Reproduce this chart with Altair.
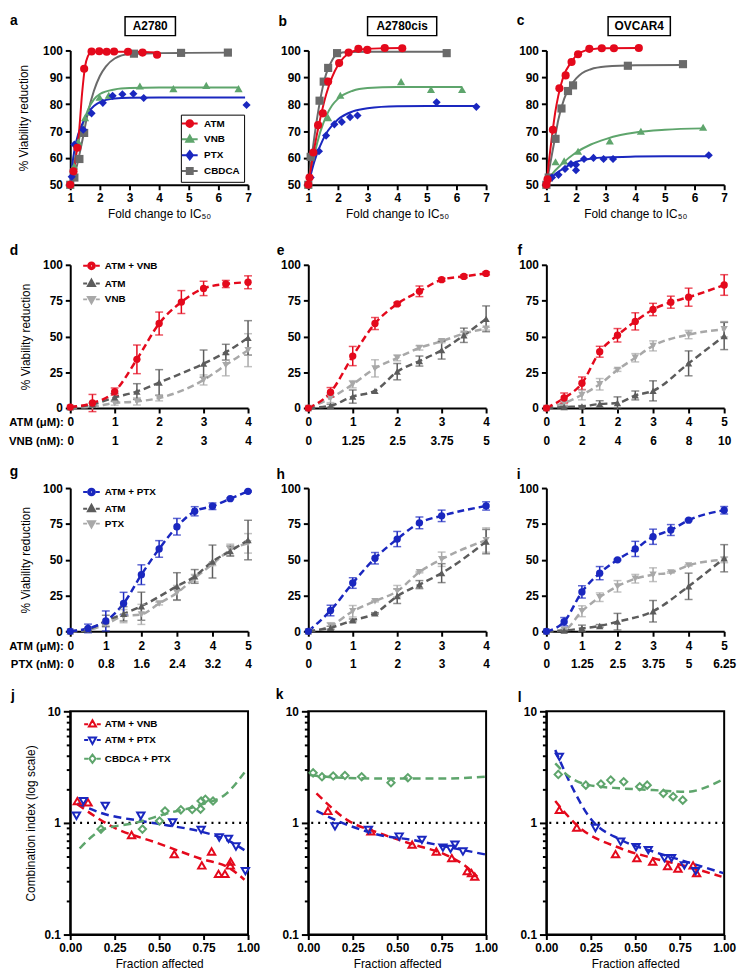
import altair as alt
import pandas as pd

FONT = "Liberation Sans"
RED = "#e4091c"
GREEN = "#5ea56c"
BLUE = "#1a27bf"
CGRAY = "#6a6a6a"
DGRAY = "#5c5c5c"
LGRAY = "#a8a8a8"

W = 180
H1, H2, H4 = 136, 145, 226
SPX, SPY = 61, 81

# ---------------- panels a-c : fold change to IC50 ----------------
FOLD_TICKS = [1, 2, 3, 4, 5, 6, 7]
VIAB1_TICKS = [50, 60, 70, 80, 90, 100]

A_ATM_X = [1, 1.11, 1.24, 1.47, 1.72, 1.98, 2.23, 2.48, 2.95, 3.44, 3.93]
A_ATM_Y = [50, 55, 63.8, 93.2, 99.6, 99.7, 99.5, 99.6, 99.5, 99.2, 98.4]
A_ATM_FX = [1, 1.1, 1.2, 1.3, 1.4, 1.5, 1.6, 1.7, 1.8, 2.0, 2.5, 3.0, 3.5, 3.93]
A_ATM_FY = [50, 54, 61, 70, 84, 94, 98, 99.3, 99.5, 99.5, 99.5, 99.5, 99.4, 99.2]
A_CBD_X = [1, 1.14, 1.31, 1.47, 3.15, 4.74, 6.32]
A_CBD_Y = [50, 52.7, 59.6, 69.3, 98.8, 99.1, 99.2]
A_CBD_FX = [1, 1.2, 1.4, 1.6, 1.8, 2.0, 2.2, 2.5, 3.0, 4.0, 5.0, 6.32]
A_CBD_FY = [50, 56, 66, 77, 85, 90.5, 94, 97, 98.7, 99, 99.1, 99.2]
A_VNB_X = [1, 1.13, 1.27, 1.5, 1.63, 1.99, 2.3, 3.35, 4.48, 5.59, 6.68]
A_VNB_Y = [50, 57, 66, 75, 77, 82.6, 83.3, 86.8, 85.8, 87, 85.8]
A_VNB_FX = [1, 1.2, 1.4, 1.6, 1.8, 2.0, 2.5, 3.0, 4.0, 5.0, 6.68]
A_VNB_FY = [50, 62, 71.5, 78, 81.8, 83.8, 85.5, 86, 86.2, 86.2, 86.2]
A_PTX_X = [1, 1.05, 1.14, 1.44, 1.72, 2.1, 2.43, 2.76, 3.13, 3.48, 6.95]
A_PTX_Y = [50, 53, 65, 70.5, 76.6, 80.5, 83.1, 83.7, 83.9, 82.3, 79.7]
A_PTX_FX = [1, 1.1, 1.2, 1.4, 1.6, 1.8, 2.0, 2.5, 3.0, 4.0, 5.0, 6.9]
A_PTX_FY = [50, 60, 66, 72.5, 76.8, 79.3, 80.8, 82.1, 82.4, 82.5, 82.5, 82.5]

B_ATM_X = [1, 1.04, 1.17, 1.33, 1.49, 1.67, 2.04, 2.36, 2.69, 2.99, 3.58, 4.17]
B_ATM_Y = [50, 52.7, 62, 72.2, 76.6, 88.4, 95.3, 99.2, 100.6, 100.2, 100.9, 100.8]
B_ATM_FX = [1, 1.2, 1.4, 1.6, 1.8, 2.0, 2.2, 2.5, 3.0, 3.5, 4.17]
B_ATM_FY = [50, 63.5, 74.5, 83.5, 90, 94.5, 97.4, 99.6, 100.6, 100.8, 100.9]
B_CBD_X = [1, 1.08, 1.38, 1.52, 1.67, 1.97, 5.67]
B_CBD_Y = [50, 60.4, 81.3, 88.4, 93.5, 99, 99]
B_CBD_FX = [1, 1.1, 1.2, 1.3, 1.4, 1.5, 1.6, 1.8, 2.0, 2.3, 3.0, 4.0, 5.67]
B_CBD_FY = [50, 59, 67.5, 75, 81.5, 87, 91.2, 96.3, 98.7, 99.4, 99.5, 99.5, 99.5]
B_VNB_X = [1, 1.67, 2.08, 4.13, 5.14, 6.19]
B_VNB_Y = [50, 75, 83.3, 88.4, 85.5, 85.5]
B_VNB_FX = [1, 1.2, 1.4, 1.6, 1.8, 2.0, 2.5, 3.0, 4.0, 5.0, 6.19]
B_VNB_FY = [50, 61, 69.5, 75.5, 79.5, 82, 85, 86, 86.4, 86.4, 86.4]
B_PTX_X = [1, 1.08, 1.36, 1.6, 1.88, 2.13, 2.41, 2.66, 5.33, 6.67]
B_PTX_Y = [50, 52.7, 62.5, 68.3, 72.5, 73.4, 75.2, 75.8, 80.7, 79]
B_PTX_FX = [1, 1.2, 1.4, 1.6, 1.8, 2.0, 2.5, 3.0, 4.0, 5.0, 6.67]
B_PTX_FY = [50, 58.5, 64.5, 69, 72, 74.3, 77.3, 78.5, 79.2, 79.3, 79.3]

C_ATM_X = [1, 1.04, 1.22, 1.44, 1.65, 1.85, 2.07, 2.45, 2.87, 3.28, 4.12]
C_ATM_Y = [50, 52, 70.5, 85.9, 90.7, 95.7, 98.6, 100.6, 100.8, 100.8, 100.9]
C_ATM_FX = [1, 1.1, 1.2, 1.3, 1.4, 1.5, 1.6, 1.8, 2.0, 2.2, 2.5, 3.0, 4.12]
C_ATM_FY = [50, 60, 69, 77, 83, 87.5, 91, 95, 98, 99.5, 100.4, 100.8, 100.9]
C_CBD_X = [1, 1.08, 1.31, 1.51, 1.73, 1.9, 3.75, 5.61]
C_CBD_Y = [50, 52.7, 67.1, 78.4, 84.9, 87, 94.3, 94.9]
C_CBD_FX = [1, 1.1, 1.2, 1.3, 1.4, 1.6, 1.8, 2.0, 2.2, 2.5, 3.0, 4.0, 5.61]
C_CBD_FY = [50, 56, 62, 68, 74, 82, 86.5, 89.5, 91.5, 93, 94, 94.5, 94.6]
C_VNB_X = [1, 1.31, 1.6, 2.07, 3.14, 4.19, 6.29]
C_VNB_Y = [50, 58.6, 58.9, 62.5, 66.3, 69.9, 71.4]
C_VNB_FX = [1, 1.2, 1.5, 2.0, 2.5, 3.0, 3.5, 4.0, 5.0, 6.29]
C_VNB_FY = [50, 54, 57.5, 62, 65, 67, 68.5, 69.5, 70.5, 71]
C_PTX_X = [1, 1.19, 1.41, 1.63, 1.83, 2.0, 2.0, 2.27, 2.59, 2.93, 3.25, 6.48]
C_PTX_Y = [50, 52.7, 53.7, 55.9, 57.7, 55.4, 57.5, 59.6, 60, 59.6, 59.6, 61]
C_PTX_FX = [1, 1.2, 1.5, 1.8, 2.0, 2.5, 3.0, 4.0, 5.0, 6.48]
C_PTX_FY = [50, 53, 55.5, 57.5, 58.5, 59.7, 60.2, 60.5, 60.6, 60.6]

# ---------------- panels d-i : combinations ----------------
VIAB_TICKS = [0, 25, 50, 75, 100]
DOSE_4 = [0, 0.5, 1, 1.5, 2, 2.5, 3, 3.5, 4]
DOSE_5 = [0, 0.5, 1, 1.5, 2, 2.5, 3, 3.5, 4, 4.5, 5]
ATM_TICKS_4 = [0, 1, 2, 3, 4]
ATM_TICKS_5 = [0, 1, 2, 3, 4, 5]
D_VNB_LABELS = ["0", "1", "2", "3", "4"]
E_VNB_LABELS = ["0", "1.25", "2.5", "3.75", "5"]
F_VNB_LABELS = ["0", "2", "4", "6", "8", "10"]
G_PTX_LABELS = ["0", "0.8", "1.6", "2.4", "3.2", "4"]
H_PTX_LABELS = ["0", "1", "2", "3", "4"]
I_PTX_LABELS = ["0", "1.25", "2.5", "3.75", "5", "6.25"]

D_COMBO = [0.7, 3.5, 11.5, 34, 59, 74, 83.5, 86.6, 87.8]
D_COMBO_ERR = [0, 6, 2.5, 10, 8, 8, 5, 2.5, 4.5]
D_ATM = [0.5, 2.5, 7.4, 11.5, 17.8, None, 31, 39, 49]
D_ATM_ERR = [0, 1, 2.8, 5.5, 9, None, 9.5, 5.5, 12]
D_VNB = [0.3, 1, 3.5, 4.6, 7, None, 19.6, 30, 40.4]
D_VNB_ERR = [0, 0.5, 1.5, 2.5, 2, None, 3.5, 7.5, 11.5]

E_COMBO = [0, 11, 36.3, 59, 72.7, 81.5, 89.6, 91.9, 94]
E_COMBO_ERR = [0, 3.3, 6.7, 4.2, 1, 3.7, 1, 1, 1]
E_ATM = [0, 1.6, 8, 12, 25.4, 32.8, 40.4, 50.8, 62.3]
E_ATM_ERR = [0, 1, 4.6, 0, 5.7, 3.5, 6.2, 5, 9]
E_VNB = [0, 7, 16.6, 27.7, 35, 42, 46.6, 52, 55.4]
E_VNB_ERR = [0, 3.2, 2.5, 6, 2, 1.5, 1, 1, 1]

F_COMBO = [0, 7, 17.3, 39.3, 50.8, 60.5, 68.8, 73.9, 77.4, None, 85.9]
F_COMBO_ERR = [0, 3.5, 4.4, 3.8, 4.7, 6, 4.3, 4.2, 6.3, None, 7.2]
F_ATM = [0, 0.7, 1.2, 2.8, 3.5, 8.8, 12, None, 31.2, None, 50.3]
F_ATM_ERR = [0, 0.5, 0.5, 2.3, 4.3, 3.1, 7, None, 8.7, None, 9.5]
F_VNB = [0, 3.5, 9.2, 16.6, 26.6, 35.1, 43.4, None, 51.3, None, 55]
F_VNB_ERR = [0, 1.5, 3.5, 4, 1, 2.9, 3.5, None, 2.9, None, 5.4]

G_COMBO = [0, 2, 7.2, 19.4, 39.5, 57.5, 73, 83.8, 87.3, 92.6, 97.7]
G_COMBO_ERR = [0, 3, 7, 7.8, 6.9, 5.8, 5.8, 3.2, 2.3, 0.5, 0.5]
G_ATM = [0, 1.4, 7.2, 12.2, 17.5, None, 31.4, 38.3, 48.7, 56, 63.7]
G_ATM_ERR = [0, 1, 4, 5, 9.8, None, 9.5, 4.8, 11.5, 3.5, 13.8]
G_PTX = [0, 1, 4.8, 10.6, 11.8, 19.4, 26.8, 37.2, 46.9, 56.8, 61.4]
G_PTX_ERR = [0, 0.5, 1, 4.6, 7, 1, 5.2, 2.5, 1, 4, 6.8]

H_COMBO = [0, 14.5, 33.7, 51, 64.4, 75.7, 80.6, None, 87.5]
H_COMBO_ERR = [0, 3.7, 3.7, 4, 5.3, 4.1, 4, None, 2.9]
H_ATM = [0, 2.5, 7.6, 12.5, 24.5, 32.6, 40.6, None, 62.6]
H_ATM_ERR = [0, 1, 1, 0.5, 5.1, 2.8, 6.6, None, 8.5]
H_PTX = [0, 3.7, 14, 21, 28, 41.3, 50.3, None, 63.7]
H_PTX_ERR = [0, 2.3, 4, 0.5, 4, 0.5, 5, None, 8.5]

I_COMBO = [0, 6.7, 27.5, 40.6, 49.9, 57.5, 66, 70.7, 77.6, None, 84.5]
I_COMBO_ERR = [0, 2.9, 4.3, 4.6, 0.5, 5.3, 5.3, 3.8, 0.5, None, 2.6]
I_ATM = [0, 0.5, 2, 3.7, 6.7, None, 14, None, 31.4, None, 51]
I_ATM_ERR = [0, 0.3, 2.3, 1, 5.8, None, 7.5, None, 9.2, None, 9.5]
I_PTX = [0, 1, 14, 23.8, 31.4, 36.7, 39.5, 41.1, 46, None, 49.9]
I_PTX_ERR = [0, 0.5, 3.8, 3, 4, 3, 4.8, 0.5, 0.5, None, 2]

# ---------------- panels j-l : combination index ----------------
FA_TICKS = [0, 0.25, 0.5, 0.75, 1.0]
CI_TICKS = [0.1, 0.2, 0.3, 0.4, 0.5, 0.6, 0.7, 0.8, 0.9, 1, 2, 3, 4, 5, 6, 7, 8, 9, 10]
CI_LABELED = [0.1, 1, 10]
CI_REF = [1]

J_VNB_X = [0.04, 0.10, 0.345, 0.585, 0.74, 0.795, 0.834, 0.87, 0.90, 0.902]
J_VNB_Y = [1.57, 1.53, 0.78, 0.525, 0.416, 0.555, 0.35, 0.35, 0.416, 0.45]
J_VNB_FX = [0.04, 0.234, 0.49, 0.73, 0.9, 0.98]
J_VNB_FY = [1.47, 0.93, 0.66, 0.48, 0.39, 0.31]
J_PTX_X = [0.035, 0.074, 0.197, 0.397, 0.576, 0.736, 0.838, 0.89, 0.932, 0.985]
J_PTX_Y = [1.16, 1.57, 1.42, 1.16, 1.01, 0.866, 0.74, 0.72, 0.615, 0.37]
J_PTX_FX = [0.04, 0.179, 0.4, 0.55, 0.73, 0.9, 0.98]
J_PTX_FY = [1.5, 1.22, 1.04, 0.95, 0.84, 0.68, 0.57]
J_CBD_X = [0.173, 0.406, 0.502, 0.533, 0.622, 0.686, 0.733, 0.736, 0.76, 0.803]
J_CBD_Y = [0.88, 0.88, 1.04, 1.28, 1.31, 1.32, 1.33, 1.57, 1.63, 1.57]
J_CBD_FX = [0.053, 0.18, 0.363, 0.548, 0.733, 0.88, 0.98]
J_CBD_FY = [0.59, 0.87, 1.0, 1.22, 1.45, 1.84, 2.83]

K_VNB_X = [0.11, 0.352, 0.584, 0.72, 0.807, 0.894, 0.918, 0.936]
K_VNB_Y = [1.28, 0.84, 0.64, 0.555, 0.484, 0.37, 0.355, 0.33]
K_VNB_FX = [0.046, 0.22, 0.4, 0.584, 0.77, 0.876, 0.95]
K_VNB_FY = [1.84, 1.06, 0.81, 0.645, 0.52, 0.42, 0.33]
K_PTX_X = [0.15, 0.338, 0.511, 0.639, 0.757, 0.8, 0.825, 0.87]
K_PTX_Y = [0.93, 0.866, 0.755, 0.705, 0.6, 0.586, 0.64, 0.555]
K_PTX_FX = [0.046, 0.22, 0.4, 0.584, 0.77, 1.0]
K_PTX_FY = [1.28, 0.96, 0.78, 0.705, 0.615, 0.52]
K_CBD_X = [0.027, 0.077, 0.14, 0.206, 0.3, 0.465, 0.56]
K_CBD_Y = [2.81, 2.59, 2.63, 2.66, 2.59, 2.29, 2.54]
K_CBD_FX = [0.01, 0.146, 0.4, 0.766, 0.995]
K_CBD_FY = [2.68, 2.56, 2.5, 2.5, 2.59]

L_VNB_X = [0.073, 0.171, 0.389, 0.509, 0.598, 0.682, 0.74, 0.825, 0.845]
L_VNB_Y = [1.31, 0.91, 0.525, 0.484, 0.45, 0.41, 0.39, 0.416, 0.355]
L_VNB_FX = [0.05, 0.17, 0.42, 0.6, 0.785, 0.985]
L_VNB_FY = [1.57, 0.96, 0.59, 0.484, 0.41, 0.33]
L_PTX_X = [0.073, 0.276, 0.418, 0.504, 0.573, 0.664, 0.704, 0.776, 0.84]
L_PTX_Y = [3.91, 0.9, 0.68, 0.606, 0.57, 0.484, 0.484, 0.416, 0.37]
L_PTX_FX = [0.05, 0.13, 0.24, 0.42, 0.6, 0.785, 0.995]
L_PTX_FY = [4.5, 2.34, 1.14, 0.705, 0.555, 0.45, 0.355]
L_CBD_X = [0.067, 0.222, 0.307, 0.362, 0.435, 0.525, 0.567, 0.658, 0.713, 0.767]
L_CBD_Y = [2.72, 2.18, 2.23, 2.42, 2.34, 2.11, 2.18, 1.84, 1.72, 1.6]
L_CBD_FX = [0.05, 0.13, 0.24, 0.42, 0.6, 0.785, 0.985]
L_CBD_FY = [3.41, 2.59, 2.18, 2.04, 1.97, 1.9, 2.42]

# ---------------- helpers ----------------
DECO = pd.DataFrame({"d": [0]})

SHAPE_PTS = {
    "triangle-up": [(0, -1), (0.9, 0.6), (-0.9, 0.6)],
    "triangle-down": [(0, 1), (0.9, -0.6), (-0.9, -0.6)],
    "diamond": [(0, -1.05), (0.8, 0), (0, 1.05), (-0.8, 0)],
    "square": [(-0.75, -0.75), (0.75, -0.75), (0.75, 0.75), (-0.75, 0.75)],
}


def _poly(pts, k):
    return "M" + "L".join(f"{x * k:.3f},{y * k:.3f}" for x, y in pts) + "Z"


def _circ(r):
    return f"M{-r:.3f},0A{r:.3f},{r:.3f},0,1,1,{r:.3f},0A{r:.3f},{r:.3f},0,1,1,{-r:.3f},0Z"


def legend_symbol(kind, filled, through, half):
    ks = [1.0, 0.55, 0.12] if filled else [1.0]
    if kind == "circle":
        m = "".join(_circ(0.85 * k) for k in ks)
    else:
        m = "".join(_poly(SHAPE_PTS[kind], k) for k in ks)
    if through:
        line = f"M{-half},0L{half},0"
    else:
        line = f"M{-half},0L-1.1,0M1.1,0L{half},0"
    return line + m


def legend_layer(df, names, colors, shapes, filled, through, half, lx, ly, lo, rp, frame):
    paths = [legend_symbol(s, filled, through, half) for s in shapes]
    kw = dict(title=None, orient="none", legendX=lx, legendY=ly, labelFont=FONT,
              labelFontSize=10, labelFontWeight="bold", labelColor="black",
              symbolSize=64, symbolStrokeWidth=2, symbolOpacity=1,
              labelOffset=lo, rowPadding=rp, padding=4 if frame else 0)
    if frame:
        kw.update(strokeColor="black", fillColor="white")
    L = alt.Legend(**kw)
    return (alt.Chart(df).transform_filter("false")
            .mark_point(filled=False, opacity=1, strokeWidth=2)
            .encode(color=alt.Color("s:N", scale=alt.Scale(domain=names, range=colors), legend=L),
                    shape=alt.Shape("s:N", scale=alt.Scale(domain=names, range=paths), legend=L)))


def deco(letter, lx, ly, box=None):
    out = [alt.Chart(DECO).mark_text(text=letter, font=FONT, fontSize=14, fontWeight="bold",
                                     align="center", baseline="top", color="black")
           .encode(x=alt.value(lx), y=alt.value(ly))]
    if box:
        cx, bw, label = box
        out.append(alt.Chart(DECO).mark_rect(fill="white", stroke="black", strokeWidth=1.5)
                   .encode(x=alt.value(cx - bw / 2), x2=alt.value(cx + bw / 2),
                           y=alt.value(-34), y2=alt.value(-15)))
        out.append(alt.Chart(DECO).mark_text(text=label, font=FONT, fontSize=12, fontWeight="bold",
                                             align="center", baseline="middle", color="black")
                   .encode(x=alt.value(cx), y=alt.value(-24.5)))
    return out


def fold_panel(series, letter, lpos, box, ytitle, legend=None):
    pts = pd.DataFrame([{"s": n, "x": x, "y": y} for (n, c, sh, X, Y, FX, FY) in series for x, y in zip(X, Y)])
    fit = pd.DataFrame([{"s": n, "x": x, "y": y} for (n, c, sh, X, Y, FX, FY) in series for x, y in zip(FX, FY)])
    names = [s[0] for s in series]
    colors = [s[1] for s in series]
    shapes = [s[2] for s in series]
    X = alt.X("x:Q", scale=alt.Scale(domain=[1, 7], nice=False, zero=False),
              axis=alt.Axis(values=FOLD_TICKS, title="Fold change to IC₅₀", titlePadding=5, labelFlush=False))
    Y = alt.Y("y:Q", scale=alt.Scale(domain=[50, 100], nice=False, zero=False),
              axis=alt.Axis(values=VIAB1_TICKS, title="% Viability reduction" if ytitle else None, titlePadding=12))
    color = alt.Color("s:N", scale=alt.Scale(domain=names, range=colors), legend=None)
    lines = alt.Chart(fit).mark_line(strokeWidth=2, interpolate="monotone").encode(x=X, y=Y, color=color)
    points = alt.Chart(pts).mark_point(filled=True, size=68, opacity=1).encode(
        x=X, y=Y, color=color,
        shape=alt.Shape("s:N", scale=alt.Scale(domain=names, range=shapes), legend=None))
    layers = [lines, points] + deco(letter, lpos[0], lpos[1], box)
    if legend:
        order = legend["order"]
        sel = [series[i] for i in order]
        layers.append(legend_layer(pts, [s[0] for s in sel], [s[1] for s in sel], [s[2] for s in sel],
                                   True, True, 2.0, legend["x"], legend["y"], legend["lo"], legend["rp"], True))
    return alt.layer(*layers).resolve_scale(color="independent", shape="independent").properties(width=W, height=H1)


def two_line_expr(ticks, labels2):
    expr = "''"
    for t, s in reversed(list(zip(ticks, labels2))):
        expr = f"(datum.value == {t} ? '{s}' : {expr})"
    return f"[datum.label, {expr}]"


def combo_panel(series, doses, ticks, labels2, letter, lpos, ytitle, header, legend, H):
    rows = []
    for (n, c, sh, M, E) in series:
        for x, m, e in zip(doses, M, E):
            if m is None:
                continue
            rows.append({"s": n, "x": x, "y": m, "lo": m - e, "hi": m + e, "e": e})
    df = pd.DataFrame(rows)
    names = [s[0] for s in series]
    colors = [s[1] for s in series]
    shapes = [s[2] for s in series]
    ax = dict(values=ticks, labelExpr=two_line_expr(ticks, labels2), labelLineHeight=19,
              labelBaseline="top", labelFlush=False, labelPadding=4)
    if header:
        ax.update(title=header, titleX=-7, titleY=9, titleAlign="right", titleBaseline="top",
                  titleAngle=0, titleFontWeight="bold", titleFontSize=11.5, titleLineHeight=19)
    else:
        ax.update(title=None)
    X = alt.X("x:Q", scale=alt.Scale(domain=[0, ticks[-1]], nice=False), axis=alt.Axis(**ax))
    yscale = alt.Scale(domain=[0, 100], nice=False)
    yaxis = alt.Axis(values=VIAB_TICKS, title="% Viability reduction" if ytitle else None, titlePadding=10)
    Y = alt.Y("y:Q", scale=yscale, axis=yaxis)
    color = alt.Color("s:N", scale=alt.Scale(domain=names, range=colors), legend=None)
    lines = alt.Chart(df).mark_line(strokeWidth=2.5, strokeDash=[7, 4], interpolate="monotone").encode(
        x=X, y=Y, color=color)
    errs = alt.Chart(df[df["e"] > 0]).mark_errorbar(ticks=True, size=8, thickness=1.5).encode(
        x=X, y=alt.Y("lo:Q", scale=yscale, axis=yaxis), y2="hi:Q", color=color)
    points = alt.Chart(df).mark_point(filled=True, size=55, opacity=1).encode(
        x=X, y=Y, color=color,
        shape=alt.Shape("s:N", scale=alt.Scale(domain=names, range=shapes), legend=None))
    layers = [lines, errs, points] + deco(letter, lpos[0], lpos[1])
    if legend:
        order = legend["order"]
        sel = [series[i] for i in order]
        layers.append(legend_layer(df, [s[0] for s in sel], [s[1] for s in sel], [s[2] for s in sel],
                                   True, False, 2.1, legend["x"], legend["y"], legend["lo"], legend["rp"], False))
    return alt.layer(*layers).resolve_scale(color="independent", shape="independent").properties(width=W, height=H)


def ci_panel(series, letter, lpos, ytitle, legend=None):
    pts = pd.DataFrame([{"s": n, "x": x, "y": y} for (n, c, sh, X, Y, FX, FY) in series for x, y in zip(X, Y)])
    fit = pd.DataFrame([{"s": n, "x": x, "y": y} for (n, c, sh, X, Y, FX, FY) in series for x, y in zip(FX, FY)])
    names = [s[0] for s in series]
    colors = [s[1] for s in series]
    shapes = [s[2] for s in series]
    major = "indexof(" + str(CI_LABELED) + ", datum.value) >= 0"
    X = alt.X("x:Q", scale=alt.Scale(domain=[0, 1], nice=False),
              axis=alt.Axis(values=FA_TICKS, format=".2f", title="Fraction affected", titlePadding=5,
                            labelFlush=False))
    Y = alt.Y("y:Q", scale=alt.Scale(type="log", domain=[0.1, 10], nice=False),
              axis=alt.Axis(values=CI_TICKS, format="~g", labelExpr=f"{major} ? datum.label : ''",
                            labelOverlap=False,
                            tickSize={"condition": {"test": major, "value": 7}, "value": 4},
                            title="Combination index (log scale)" if ytitle else None, titlePadding=6))
    color = alt.Color("s:N", scale=alt.Scale(domain=names, range=colors), legend=None)
    ref = alt.Chart(pd.DataFrame({"y": CI_REF})).mark_rule(strokeDash=[2, 5], strokeWidth=2.2, color="black").encode(y=Y)
    lines = alt.Chart(fit).mark_line(strokeWidth=2.5, strokeDash=[8, 5], interpolate="monotone").encode(
        x=X, y=Y, color=color)
    points = alt.Chart(pts).mark_point(filled=False, size=55, strokeWidth=2, opacity=1).encode(
        x=X, y=Y, color=color,
        shape=alt.Shape("s:N", scale=alt.Scale(domain=names, range=shapes), legend=None))
    layers = [ref, lines, points] + deco(letter, lpos[0], lpos[1])
    if legend:
        layers.append(legend_layer(pts, names, colors, shapes, False, False, 2.1,
                                   legend["x"], legend["y"], legend["lo"], legend["rp"], False))
    return (alt.layer(*layers).resolve_scale(color="independent", shape="independent")
            .properties(width=W, height=H4, view=alt.ViewBackground(stroke="black", strokeWidth=2)))


# ---------------- build panels ----------------
def fold_series(p):
    g = globals()
    return [
        ("CBDCA", CGRAY, "square", g[p + "_CBD_X"], g[p + "_CBD_Y"], g[p + "_CBD_FX"], g[p + "_CBD_FY"]),
        ("VNB", GREEN, "triangle-up", g[p + "_VNB_X"], g[p + "_VNB_Y"], g[p + "_VNB_FX"], g[p + "_VNB_FY"]),
        ("PTX", BLUE, "diamond", g[p + "_PTX_X"], g[p + "_PTX_Y"], g[p + "_PTX_FX"], g[p + "_PTX_FY"]),
        ("ATM", RED, "circle", g[p + "_ATM_X"], g[p + "_ATM_Y"], g[p + "_ATM_FX"], g[p + "_ATM_FY"]),
    ]


pa = fold_panel(fold_series("A"), "a", (-57, -37), (81, 51, "A2780"), True,
                legend={"order": [3, 1, 2, 0], "x": 112, "y": 65, "lo": 9.5, "rp": 0})
pb = fold_panel(fold_series("B"), "b", (-26, -36), (95, 70, "A2780cis"), False)
pc = fold_panel(fold_series("C"), "c", (-26, -37), (94, 63, "OVCAR4"), False)

VNB_HEAD = ["ATM (μM):", "VNB (nM):"]
PTX_HEAD = ["ATM (μM):", "PTX (nM):"]


def combo_series(p, drug, color):
    g = globals()
    return [
        (drug, LGRAY, "triangle-down", g[f"{p}_{drug}"], g[f"{p}_{drug}_ERR"]),
        ("ATM", DGRAY, "triangle-up", g[f"{p}_ATM"], g[f"{p}_ATM_ERR"]),
        (f"ATM + {drug}", color, "circle", g[f"{p}_COMBO"], g[f"{p}_COMBO_ERR"]),
    ]


pd_ = combo_panel(combo_series("D", "VNB", RED), DOSE_4, ATM_TICKS_4, D_VNB_LABELS, "d", (-57, -21), True,
                  VNB_HEAD, {"order": [2, 1, 0], "x": 16.5, "y": -4, "lo": 8.5, "rp": 2}, H2)
pe = combo_panel(combo_series("E", "VNB", RED), DOSE_4, ATM_TICKS_4, E_VNB_LABELS, "e", (-28, -21), False,
                 None, None, H2)
pf = combo_panel(combo_series("F", "VNB", RED), DOSE_5, ATM_TICKS_5, F_VNB_LABELS, "f", (-27, -21), False,
                 None, None, H2)
pg = combo_panel(combo_series("G", "PTX", BLUE), DOSE_5, ATM_TICKS_5, G_PTX_LABELS, "g", (-57, -23), True,
                 PTX_HEAD, {"order": [2, 1, 0], "x": 16.5, "y": -1, "lo": 8.5, "rp": 1}, H2)
ph = combo_panel(combo_series("H", "PTX", BLUE), DOSE_4, ATM_TICKS_4, H_PTX_LABELS, "h", (-28, -20), False,
                 None, None, H2)
pi = combo_panel(combo_series("I", "PTX", BLUE), DOSE_5, ATM_TICKS_5, I_PTX_LABELS, "i", (-28, -20), False,
                 None, None, H2)


def ci_series(p):
    g = globals()
    return [
        ("ATM + VNB", RED, "triangle-up", g[p + "_VNB_X"], g[p + "_VNB_Y"], g[p + "_VNB_FX"], g[p + "_VNB_FY"]),
        ("ATM + PTX", BLUE, "triangle-down", g[p + "_PTX_X"], g[p + "_PTX_Y"], g[p + "_PTX_FX"], g[p + "_PTX_FY"]),
        ("CBDCA + PTX", GREEN, "diamond", g[p + "_CBD_X"], g[p + "_CBD_Y"], g[p + "_CBD_FX"], g[p + "_CBD_FY"]),
    ]


pj = ci_panel(ci_series("J"), "j", (-58, -22), True, {"x": 17.5, "y": 8, "lo": 7.5, "rp": 2})
pk = ci_panel(ci_series("K"), "k", (-29, -23), False)
pl = ci_panel(ci_series("L"), "l", (-27, -20), False)

chart = (
    alt.concat(pa, pb, pc, pd_, pe, pf, pg, ph, pi, pj, pk, pl, columns=3,
               spacing={"row": SPY, "column": SPX}, bounds="flush", align="each")
    .properties(padding={"left": 0, "top": 0, "right": 1, "bottom": 1})
    .configure_view(stroke=None)
    .configure_axis(labelFont=FONT, labelFontSize=12, labelFontWeight="bold", labelColor="black",
                    titleFont=FONT, titleFontSize=12, titleFontWeight="normal", titleColor="black",
                    domainColor="black", domainWidth=2, tickColor="black", tickWidth=2, tickSize=5,
                    grid=False, labelPadding=3)
)

chart.save("out.html", embed_options={"renderer": "svg", "actions": False})
